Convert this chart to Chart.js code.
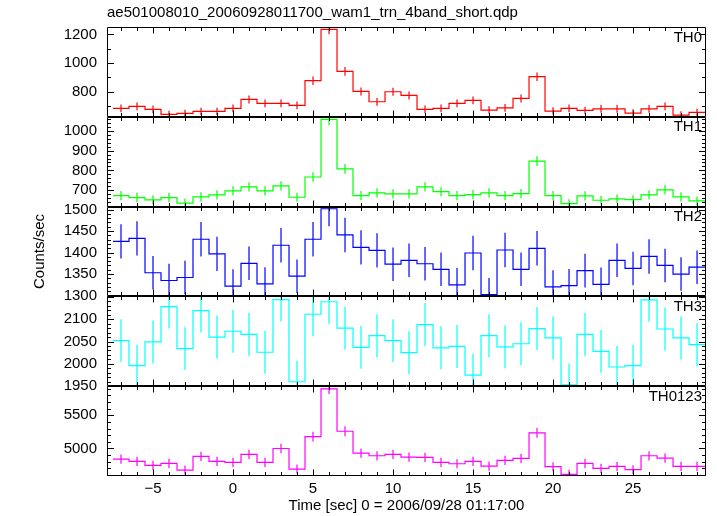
<!DOCTYPE html>
<html>
<head>
<meta charset="utf-8">
<script src="https://cdn.jsdelivr.net/npm/chart.js@4.4.1/dist/chart.umd.min.js"></script>
<style>
    html, body { margin: 0; padding: 0; background: #fff; }
    canvas { display: block; }
</style>
</head>
<body>
<canvas id="myChart" width="717" height="516"></canvas>
<script>
// bin centres [sec], 1 s bins
var time = [-7, -6, -5, -4, -3, -2, -1, 0, 1, 2, 3, 4, 5, 6, 7, 8, 9, 10, 11,
    12, 13, 14, 15, 16, 17, 18, 19, 20, 21, 22, 23, 24, 25, 26, 27, 28, 29]

// counts/sec per band
var th0 = [684, 698, 677, 642, 649, 663, 663, 684, 746, 719, 719, 705, 877, 1236, 942, 802, 730, 800, 774,
    677, 684, 719, 740, 672, 688, 753, 905, 665, 684, 670, 681, 681, 651, 681, 698, 637, 656]
var th0Err = [27, 27, 27, 26, 26, 26, 26, 27, 28, 27, 27, 27, 30, 35, 31, 28, 27, 28, 28,
    27, 27, 27, 27, 26, 27, 28, 30, 26, 27, 26, 27, 27, 26, 27, 27, 26, 26]

var th1 = [673, 663, 652, 663, 635, 667, 677, 697, 717, 697, 722, 665, 767, 1057, 808, 673, 687, 682, 682,
    717, 693, 673, 678, 687, 673, 683, 847, 673, 633, 672, 650, 657, 653, 677, 702, 667, 647]
var th1Err = [23, 23, 23, 23, 22, 23, 23, 23, 23, 23, 23, 23, 24, 28, 25, 23, 23, 23, 23,
    23, 23, 23, 23, 23, 23, 23, 25, 23, 22, 23, 22, 22, 22, 23, 23, 23, 22]

var th2 = [1426, 1433, 1353, 1335, 1342, 1431, 1397, 1322, 1375, 1327, 1417, 1345, 1431, 1502, 1441, 1412, 1405, 1373, 1382,
    1374, 1361, 1325, 1399, 1302, 1406, 1361, 1410, 1320, 1323, 1358, 1326, 1382, 1363, 1391, 1370, 1350, 1366]
var th2Err = [40, 40, 39, 39, 39, 40, 40, 39, 39, 39, 40, 39, 40, 41, 40, 40, 40, 39, 39,
    39, 39, 39, 40, 39, 40, 39, 40, 39, 39, 39, 39, 39, 39, 40, 39, 39, 39]

var th3 = [2052, 1996, 2049, 2128, 2034, 2119, 2060, 2073, 2066, 2026, 2144, 1960, 2111, 2139, 2080, 2037, 2063, 2052, 2025,
    2088, 2036, 2039, 1975, 2063, 2038, 2045, 2079, 2058, 1953, 2066, 2028, 1993, 1996, 2143, 2078, 2058, 2043]
var th3Err = [48, 47, 48, 49, 48, 49, 48, 48, 48, 48, 49, 47, 49, 49, 48, 48, 48, 48, 48,
    48, 48, 48, 47, 48, 48, 48, 48, 48, 47, 48, 48, 47, 47, 49, 48, 48, 48]

var th0123 = [4840, 4805, 4745, 4775, 4675, 4880, 4805, 4790, 4910, 4790, 5000, 4690, 5180, 5900, 5260, 4930, 4890, 4910, 4870,
    4865, 4790, 4770, 4805, 4735, 4820, 4850, 5235, 4725, 4610, 4775, 4700, 4730, 4680, 4890, 4855, 4730, 4730]
var th0123Err = [70, 70, 69, 69, 68, 70, 70, 70, 70, 70, 71, 68, 73, 80, 74, 70, 70, 70, 70,
    70, 70, 69, 70, 69, 70, 70, 74, 69, 68, 69, 68, 69, 68, 70, 70, 69, 69]

// tick labels
var xTicks = [-5, 0, 5, 10, 15, 20, 25]
var th0Ticks = [800, 1000, 1200]
var th1Ticks = [700, 800, 900, 1000]
var th2Ticks = [1300, 1350, 1400, 1450, 1500]
var th3Ticks = [1950, 2000, 2050, 2100]
var th0123Ticks = [5000, 5500]

var titleText = 'ae501008010_20060928011700_wam1_trn_4band_short.qdp'
var xTitle = 'Time [sec] 0 = 2006/09/28 01:17:00'
var yTitle = 'Counts/sec'

var FONT = "'Liberation Sans', Arial, Helvetica, sans-serif"

// top to bottom
var panels = [
    { id: 'y0', name: 'TH0', vals: th0, err: th0Err, ticks: th0Ticks, color: '#ff0000', min: 625, max: 1252, minor: 100 },
    { id: 'y1', name: 'TH1', vals: th1, err: th1Err, ticks: th1Ticks, color: '#00ff00', min: 618, max: 1070, minor: 20 },
    { id: 'y2', name: 'TH2', vals: th2, err: th2Err, ticks: th2Ticks, color: '#0000ff', min: 1298, max: 1507, minor: 10 },
    { id: 'y3', name: 'TH3', vals: th3, err: th3Err, ticks: th3Ticks, color: '#00ffff', min: 1950, max: 2151, minor: 10 },
    { id: 'y4', name: 'TH0123', vals: th0123, err: th0123Err, ticks: th0123Ticks, color: '#ff00ff', min: 4585, max: 5939, minor: 100 }
]

var datasets = []
panels.forEach(function (p) {
    // histogram steps: one point on each bin's left edge, plus the last right edge
    var steps = time.map(function (t, i) {
        return { x: t - 0.5, y: p.vals[i] }
    })
    steps.push({ x: time[time.length - 1] + 0.5, y: p.vals[p.vals.length - 1] })
    datasets.push({
        data: steps,
        yAxisID: p.id,
        borderColor: p.color,
        borderWidth: 1.2,
        stepped: 'before',
        pointRadius: 0,
        fill: false
    })
    // vertical error bars, separated by gaps
    var bars = []
    time.forEach(function (t, i) {
        bars.push({ x: t, y: p.vals[i] - p.err[i] })
        bars.push({ x: t, y: p.vals[i] + p.err[i] })
        bars.push({ x: t, y: null })
    })
    datasets.push({
        data: bars,
        yAxisID: p.id,
        borderColor: p.color,
        borderWidth: 1.2,
        pointRadius: 0,
        spanGaps: false,
        fill: false
    })
})

var scales = {
    x: {
        type: 'linear',
        position: 'bottom',
        min: -7.875,
        max: 29.56,
        grid: { display: false, drawTicks: false },
        border: { display: false },
        afterBuildTicks: function (scale) {
            scale.ticks = xTicks.map(function (v) { return { value: v } })
        },
        afterFit: function (scale) { scale.height = 40 },
        ticks: {
            autoSkip: false,
            maxRotation: 0,
            padding: 4,
            color: '#000',
            font: { family: FONT, size: 15 },
            callback: function (v) { return v < 0 ? '\u2212' + Math.abs(v) : String(v) }
        },
        title: {
            display: true,
            text: xTitle,
            color: '#000',
            font: { family: FONT, size: 15 },
            padding: { top: 0, bottom: 1 }
        }
    }
}

// bottom panel first: later boxes of a left stack are placed on top
panels.slice().reverse().forEach(function (p, k) {
    scales[p.id] = {
        type: 'linear',
        position: 'left',
        stack: 'panels',
        stackWeight: 1,
        weight: k + 1,
        min: p.min,
        max: p.max,
        grid: { display: false, drawTicks: false },
        border: { display: false },
        afterBuildTicks: function (scale) {
            scale.ticks = p.ticks.map(function (v) { return { value: v } })
        },
        afterFit: function (scale) { scale.width = 107 },
        ticks: {
            autoSkip: false,
            padding: 10,
            color: '#000',
            font: { family: FONT, size: 15 },
            callback: function (v) { return String(v) }
        },
        title: {
            display: p.id === 'y2',
            text: yTitle,
            color: '#000',
            font: { family: FONT, size: 15 },
            padding: { top: 31, bottom: 0 }
        }
    }
})

// frames, inward ticks and band names, qdp style
var qdpFrame = {
    id: 'qdpFrame',
    beforeDatasetDraw: function (chart, args) {
        var ys = args.meta.yScale
        var area = chart.chartArea
        chart.ctx.save()
        chart.ctx.beginPath()
        chart.ctx.rect(area.left, ys.top, area.right - area.left, ys.bottom - ys.top)
        chart.ctx.clip()
    },
    afterDatasetDraw: function (chart) {
        chart.ctx.restore()
    },
    afterDraw: function (chart) {
        var ctx = chart.ctx
        var xs = chart.scales.x
        var area = chart.chartArea
        var L = Math.round(area.left) + 0.5
        var R = Math.round(area.right) - 0.5
        ctx.save()
        ctx.strokeStyle = '#000'
        ctx.lineWidth = 1
        panels.forEach(function (p) {
            var s = chart.scales[p.id]
            var T = Math.round(s.top) + 0.5
            var B = Math.round(s.bottom) - 0.5
            ctx.beginPath()
            ctx.rect(L, T, R - L, B - T)
            // x ticks on top and bottom edge
            for (var t = Math.ceil(xs.min); t <= xs.max; t++) {
                var px = Math.round(xs.getPixelForValue(t)) + 0.5
                var len = t % 5 === 0 ? 6 : 3.5
                ctx.moveTo(px, T); ctx.lineTo(px, T + len)
                ctx.moveTo(px, B); ctx.lineTo(px, B - len)
            }
            // y ticks on left and right edge
            for (var v = Math.ceil(p.min / p.minor) * p.minor; v <= p.max; v += p.minor) {
                var py = Math.round(s.getPixelForValue(v)) + 0.5
                var major = v % (p.ticks[1] - p.ticks[0]) === 0
                var l = major ? 6.5 : 3.5
                ctx.moveTo(L, py); ctx.lineTo(L + l, py)
                ctx.moveTo(R, py); ctx.lineTo(R - l, py)
            }
            ctx.stroke()
            ctx.fillStyle = '#000'
            ctx.font = '15px ' + FONT
            ctx.textAlign = 'right'
            ctx.textBaseline = 'top'
            ctx.fillText(p.name, area.right - 4, s.top + 3)
        })
        ctx.restore()
    }
}

var myChart = new Chart(document.getElementById('myChart'), {
    type: 'line',
    data: { datasets: datasets },
    options: {
        responsive: false,
        animation: false,
        devicePixelRatio: 1,
        layout: { padding: { left: 0, right: 11, top: 0, bottom: 0 } },
        scales: scales,
        plugins: {
            legend: { display: false },
            tooltip: { enabled: false },
            title: {
                display: true,
                text: titleText,
                align: 'start',
                fullSize: false,
                color: '#000',
                font: { family: FONT, size: 15, weight: 'normal' },
                padding: { top: 4, bottom: 5 }
            }
        }
    },
    plugins: [qdpFrame]
})
</script>
</body>
</html>
